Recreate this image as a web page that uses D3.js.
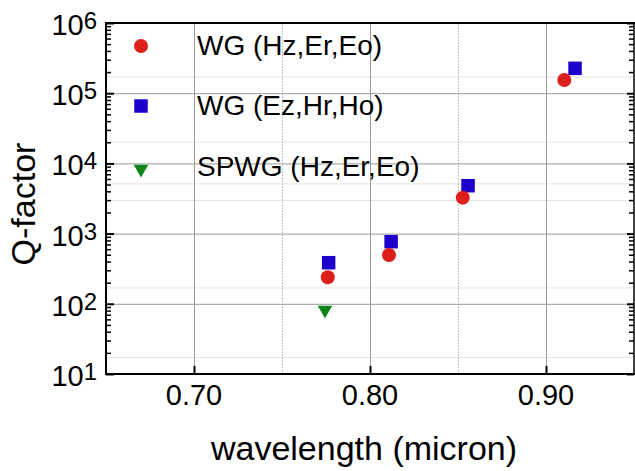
<!DOCTYPE html>
<html><head><meta charset="utf-8">
<script src="https://cdn.jsdelivr.net/npm/d3@7"></script>
<style>
body{margin:0;background:#fff}
svg{display:block}
text{font-family:"Liberation Sans",Arial,Helvetica,sans-serif;fill:#000}
</style>
</head><body><svg id="c" width="635" height="471"></svg>
<script>
// ---- data ----
const seriesNames = ["WG (Hz,Er,Eo)", "WG (Ez,Hr,Ho)", "SPWG (Hz,Er,Eo)"];
const seriesColors = ["#dd1f1c", "#1e00cc", "#0f8418"];
const wgHzWavelength = [0.776, 0.8108, 0.8527, 0.9104];
const wgHzQ = [239, 496, 3250, 154000];
const wgEzWavelength = [0.7765, 0.812, 0.8557, 0.9165];
const wgEzQ = [385, 767, 4810, 226000];
const spwgWavelength = [0.7744];
const spwgQ = [82];
const xTickValues = [0.70, 0.80, 0.90];
const xTickLabels = ["0.70", "0.80", "0.90"];
const xMinorGrid = [0.75, 0.85];
const yExponents = [1, 2, 3, 4, 5, 6];
const yLightGrid = [17.5, 171, 3010, 5200, 20400, 173000];
const xTitle = "wavelength (micron)";
const yTitle = "Q-factor";

// ---- layout ----
const L = 106, R = 634, T = 23, B = 374;
const svg = d3.select("#c");
const x = d3.scaleLinear().domain([0.65, 0.95]).range([L, R]);
const y = d3.scaleLog().domain([10, 1e6]).range([B, T]);

const decades = yExponents.map(e => Math.pow(10, e));
const minors = [];
for (let e = 1; e < 6; e++) for (let m = 2; m <= 9; m++) minors.push(m * Math.pow(10, e));

// light horizontal grid
svg.append("g").attr("transform", `translate(${L},0)`)
  .call(d3.axisLeft(y).tickValues(yLightGrid).tickSize(-(R - L)).tickFormat(""))
  .call(g => g.select(".domain").remove())
  .call(g => g.selectAll("line").attr("stroke", "#e4e4e4").attr("stroke-width", 1));
// major horizontal grid
svg.append("g").attr("transform", `translate(${L},0)`)
  .call(d3.axisLeft(y).tickValues(decades.slice(1, 5)).tickSize(-(R - L)).tickFormat(""))
  .call(g => g.select(".domain").remove())
  .call(g => g.selectAll("line").attr("stroke", "#9a9a9a").attr("stroke-width", 1));
// minor vertical grid (dotted)
svg.append("g").attr("transform", `translate(0,${B})`)
  .call(d3.axisBottom(x).tickValues(xMinorGrid).tickSize(-(B - T)).tickFormat(""))
  .call(g => g.select(".domain").remove())
  .call(g => g.selectAll("line").attr("stroke", "#b0b0b0").attr("stroke-width", 1).attr("stroke-dasharray", "1.5,1.5"));
// major vertical grid
svg.append("g").attr("transform", `translate(0,${B})`)
  .call(d3.axisBottom(x).tickValues(xTickValues).tickSize(-(B - T)).tickFormat(""))
  .call(g => g.select(".domain").remove())
  .call(g => g.selectAll("line").attr("stroke", "#9a9a9a").attr("stroke-width", 1));

// ---- points ----
const circle = d3.symbol().type(d3.symbolCircle).size(Math.PI * 7 * 7);
const square = d3.symbol().type(d3.symbolSquare).size(13.5 * 13.5);
const tri = d3.symbol().type(d3.symbolTriangle).size(92);

const series = [
  {xs: wgEzWavelength, ys: wgEzQ, sym: square, rot: 0, color: seriesColors[1]},
  {xs: wgHzWavelength, ys: wgHzQ, sym: circle, rot: 0, color: seriesColors[0]},
  {xs: spwgWavelength, ys: spwgQ, sym: tri, rot: 180, color: seriesColors[2]}
];
series.forEach(s => {
  svg.append("g").selectAll("path").data(s.xs.map((v, i) => [v, s.ys[i]])).join("path")
    .attr("d", s.sym)
    .attr("transform", d => `translate(${x(d[0])},${y(d[1])}) rotate(${s.rot})`)
    .attr("fill", s.color);
});

// ---- legend ----
const legendBase = [55, 115, 176];
const legendSyms = [circle, square, tri];
const legendRot = [0, 0, 180];
seriesNames.forEach((n, i) => {
  svg.append("path").attr("d", legendSyms[i])
    .attr("transform", `translate(141,${legendBase[i] - 9 + (i === 2 ? 2 : 0)}) rotate(${legendRot[i]})`)
    .attr("fill", seriesColors[i]);
  svg.append("text").attr("x", 197).attr("y", legendBase[i])
    .attr("font-size", 28).text(n);
});

// ---- axes ----
// left axis: ticks inward
svg.append("g").attr("transform", `translate(${L},0)`)
  .call(d3.axisLeft(y).tickValues(minors).tickSize(-5).tickFormat(""))
  .call(g => g.select(".domain").remove())
  .call(g => g.selectAll("line").attr("stroke", "#000").attr("stroke-width", 1.5));
svg.append("g").attr("transform", `translate(${L},0)`)
  .call(d3.axisLeft(y).tickValues(decades).tickSize(-8).tickFormat(""))
  .call(g => g.select(".domain").remove())
  .call(g => g.selectAll("line").attr("stroke", "#000").attr("stroke-width", 2));
// right axis
svg.append("g").attr("transform", `translate(${R},0)`)
  .call(d3.axisRight(y).tickValues(minors).tickSize(-5).tickFormat(""))
  .call(g => g.select(".domain").remove())
  .call(g => g.selectAll("line").attr("stroke", "#000").attr("stroke-width", 1.5));
svg.append("g").attr("transform", `translate(${R},0)`)
  .call(d3.axisRight(y).tickValues(decades).tickSize(-7).tickFormat(""))
  .call(g => g.select(".domain").remove())
  .call(g => g.selectAll("line").attr("stroke", "#000").attr("stroke-width", 2));
// bottom axis ticks inward
svg.append("g").attr("transform", `translate(0,${B})`)
  .call(d3.axisBottom(x).tickValues(xTickValues).tickSize(-8).tickFormat(""))
  .call(g => g.select(".domain").remove())
  .call(g => g.selectAll("line").attr("stroke", "#000").attr("stroke-width", 2));

// frame lines
svg.append("line").attr("x1", L).attr("x2", L).attr("y1", T - 1).attr("y2", B + 1).attr("stroke", "#000").attr("stroke-width", 2);
svg.append("line").attr("x1", L - 1).attr("x2", R + 1).attr("y1", B).attr("y2", B).attr("stroke", "#000").attr("stroke-width", 2);
svg.append("line").attr("x1", L - 1).attr("x2", R + 1).attr("y1", T).attr("y2", T).attr("stroke", "#000").attr("stroke-width", 2);
svg.append("line").attr("x1", R).attr("x2", R).attr("y1", T).attr("y2", B).attr("stroke", "#000").attr("stroke-width", 1.5);

// y tick labels with superscripts
const yl = svg.append("g").selectAll("text").data(yExponents).join("text")
  .attr("x", 97).attr("y", e => y(Math.pow(10, e)) + 12)
  .attr("text-anchor", "end").attr("font-size", 29);
yl.append("tspan").text("10");
yl.append("tspan").attr("font-size", 24).attr("dy", -6).text(e => String(e));

// x tick labels
svg.append("g").selectAll("text").data(xTickValues).join("text")
  .attr("x", d => x(d)).attr("y", 405)
  .attr("text-anchor", "middle").attr("font-size", 29)
  .text((d, i) => xTickLabels[i]);

// titles
svg.append("text").attr("x", 364).attr("y", 460).attr("text-anchor", "middle")
  .attr("font-size", 34).text(xTitle);
svg.append("text").attr("transform", "translate(35,204) rotate(-90)")
  .attr("text-anchor", "middle").attr("font-size", 34).text(yTitle);
</script>
</body></html>
